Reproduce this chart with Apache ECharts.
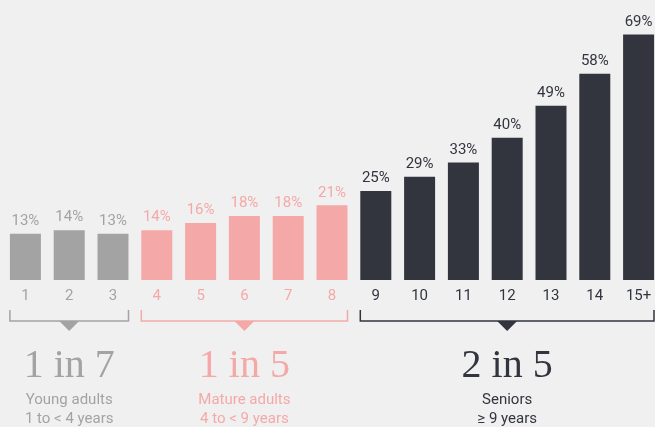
<!DOCTYPE html>
<html>
<head>
<meta charset="utf-8">
<script src="https://cdn.jsdelivr.net/npm/echarts@6/dist/echarts.min.js"></script>
<style>
  html, body { margin: 0; padding: 0; background: #f0f0f0; }
  #chart { width: 655px; height: 427px; }
</style>
</head>
<body>
<div id="chart"></div>
<script>
var categories = ['1','2','3','4','5','6','7','8','9','10','11','12','13','14','15+'];
var values = [13, 14, 13, 14, 16, 18, 18, 21, 25, 29, 33, 40, 49, 58, 69];
// which group each bar belongs to
var groupOf = [0,0,0, 1,1,1,1,1, 2,2,2,2,2,2,2];

var groupColors = ['#a3a3a3', '#f4a9a8', '#32353e'];
var groupFirst = [0, 3, 8];
var groupLast = [2, 7, 14];
var groupRatios = ['1 in 7', '1 in 5', '2 in 5'];
var groupNames = ['Young adults', 'Mature adults', 'Seniors'];
var groupRanges = ['1 to < 4 years', '4 to < 9 years', '\u2265 9 years'];

var barW = 31;

var chart = echarts.init(document.getElementById('chart'));

var seriesData = values.map(function (v, i) {
    var c = groupColors[groupOf[i]];
    return {
        value: v,
        itemStyle: { color: c },
        label: { color: c }
    };
});

chart.setOption({
    backgroundColor: '#f0f0f0',
    animation: false,
    grid: {
        left: 3.5,
        width: 657,
        top: 31,
        bottom: 147,
        containLabel: false,
        outerBoundsMode: 'none'
    },
    xAxis: {
        type: 'category',
        data: categories,
        axisLine: { show: false },
        axisTick: { show: false },
        axisLabel: {
            margin: 9,
            fontFamily: 'Roboto',
            fontSize: 15,
            color: function (val, idx) {
                return groupColors[groupOf[idx]];
            }
        }
    },
    yAxis: {
        type: 'value',
        min: 0,
        max: 70,
        show: false
    },
    series: [{
        type: 'bar',
        barWidth: barW,
        data: seriesData,
        label: {
            show: true,
            position: 'top',
            distance: 5,
            fontFamily: 'Roboto',
            fontSize: 15,
            formatter: '{c}%'
        }
    }]
});

// brackets + captions under each group
var graphics = [];
var yTop = 310, yLine = 321;
for (var g = 0; g < groupFirst.length; g++) {
    var x1 = chart.convertToPixel({ xAxisIndex: 0 }, groupFirst[g]) - barW / 2;
    var x2 = chart.convertToPixel({ xAxisIndex: 0 }, groupLast[g]) + barW / 2;
    x2 = Math.min(x2, 654);
    var cx = (x1 + x2) / 2;
    var col = groupColors[g];
    graphics.push({
        type: 'polyline',
        shape: { points: [[x1, yTop], [x1, yLine], [x2, yLine], [x2, yTop]] },
        style: { stroke: col, lineWidth: 1.5, fill: null }
    });
    graphics.push({
        type: 'polygon',
        shape: { points: [[cx - 10, yLine], [cx + 10, yLine], [cx, yLine + 10]] },
        style: { fill: col }
    });
    graphics.push({
        type: 'text',
        x: cx,
        y: 366,
        style: {
            text: groupRatios[g],
            fill: col,
            font: '300 40px "Liberation Serif", serif',
            align: 'center',
            verticalAlign: 'middle'
        }
    });
    graphics.push({
        type: 'text',
        x: cx,
        y: 391,
        style: {
            text: groupNames[g] + '\n' + groupRanges[g],
            fill: col,
            font: '15px Roboto',
            lineHeight: 19,
            align: 'center',
            verticalAlign: 'top'
        }
    });
}
chart.setOption({ graphic: graphics });
</script>
</body>
</html>
